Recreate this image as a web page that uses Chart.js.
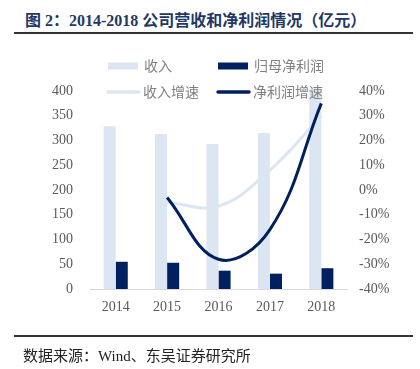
<!DOCTYPE html>
<html>
<head>
<meta charset="utf-8">
<script src="https://cdn.jsdelivr.net/npm/chart.js@4.4.0/dist/chart.umd.min.js"></script>
<style>
    body { margin: 0; background: #fff; }
    #wrap { position: relative; width: 420px; height: 369px; overflow: hidden; }
    #title { position: absolute; left: 25px; top: 7px; font: bold 16px "Liberation Serif", "Noto Sans CJK SC"; color: #1f3864; white-space: nowrap; }
    .rule { position: absolute; left: 14px; width: 399px; height: 2px; background: #333; }
    #source { position: absolute; left: 23px; top: 344px; font: 15px "Liberation Serif", "Noto Sans CJK SC"; color: #222; white-space: nowrap; }
    canvas { position: absolute; left: 0; top: 0; }
</style>
</head>
<body>
<div id="wrap">
    <div id="title">图 2：2014-2018 公司营收和净利润情况（亿元）</div>
    <div class="rule" style="top:32px"></div>
    <canvas id="c" width="420" height="369"></canvas>
    <div class="rule" style="top:335px"></div>
    <div id="source">数据来源：Wind、东吴证券研究所</div>
</div>
<script>
var years = ['2014', '2015', '2016', '2017', '2018'];
var revenue = [329, 313, 293, 315, 405];
var netProfit = [55, 53, 37, 31, 42];
var revenueGrowth = [null, -5, -6.5, 8, 30];
var profitGrowth = [null, -3, -28, -16, 35];
var leftTicks = [0, 400, 50];
var rightTicks = [-40, 40, 10];

var lightBlue = '#dce6f2';
var navy = '#002060';

// legend drawn over the plot, like the original
var legendItems = [
    { text: '收入', x: 108, y: 66, kind: 'box', color: lightBlue },
    { text: '归母净利润', x: 218, y: 66, kind: 'box', color: navy },
    { text: '收入增速', x: 107, y: 92, kind: 'line', color: lightBlue },
    { text: '净利润增速', x: 217, y: 92, kind: 'line', color: navy }
];

var legendPlugin = {
    id: 'overlayLegend',
    afterDraw: function(chart) {
        var ctx = chart.ctx;
        ctx.save();
        legendItems.forEach(function(item) {
            if (item.kind === 'box') {
                ctx.fillStyle = item.color;
                ctx.fillRect(item.x, item.y - 3.5, 30, 7);
            } else {
                ctx.strokeStyle = item.color;
                ctx.lineWidth = 3.5;
                ctx.lineCap = 'round';
                ctx.beginPath();
                ctx.moveTo(item.x + 1, item.y);
                ctx.lineTo(item.x + 32, item.y);
                ctx.stroke();
            }
            ctx.fillStyle = '#808080';
            ctx.font = '14px "Noto Sans CJK SC"';
            ctx.textBaseline = 'middle';
            ctx.fillText(item.text, item.x + 36, item.y);
        });
        ctx.restore();
    }
};

var tickFont = { family: '"Liberation Serif"', size: 14 };

new Chart(document.getElementById('c'), {
    data: {
        labels: years,
        datasets: [
            {
                type: 'line', label: '收入增速', data: revenueGrowth, yAxisID: 'y2',
                borderColor: lightBlue, borderWidth: 3, tension: 0.4, pointRadius: 0, order: 1
            },
            {
                type: 'line', label: '净利润增速', data: profitGrowth, yAxisID: 'y2',
                borderColor: navy, borderWidth: 3, tension: 0.4, pointRadius: 0, order: 0
            },
            {
                type: 'bar', label: '收入', data: revenue, yAxisID: 'y',
                backgroundColor: lightBlue, categoryPercentage: 0.47, barPercentage: 1.0,
                clip: false, order: 2
            },
            {
                type: 'bar', label: '归母净利润', data: netProfit, yAxisID: 'y',
                backgroundColor: navy, categoryPercentage: 0.47, barPercentage: 1.0, order: 3
            }
        ]
    },
    options: {
        responsive: false,
        animation: false,
        layout: { padding: { top: 91, bottom: 50, left: 0, right: 0 } },
        scales: {
            x: {
                grid: { display: false, drawTicks: false },
                border: { display: true, color: '#d9d9d9', width: 1 },
                ticks: { color: '#595959', font: tickFont, padding: 10, maxRotation: 0 },
                afterFit: function(scale) { scale.height = 30; }
            },
            y: {
                position: 'left',
                min: leftTicks[0], max: leftTicks[1],
                grid: { display: false, drawTicks: false },
                border: { display: false },
                ticks: { stepSize: leftTicks[2], color: '#595959', font: tickFont, padding: 17 },
                afterFit: function(scale) { scale.width = 90; }
            },
            y2: {
                position: 'right',
                min: rightTicks[0], max: rightTicks[1],
                grid: { display: false, drawTicks: false },
                border: { display: false },
                ticks: {
                    stepSize: rightTicks[2], color: '#595959', font: tickFont, padding: 12,
                    callback: function(v) { return v + '%'; }
                },
                afterFit: function(scale) { scale.width = 73; }
            }
        },
        plugins: {
            legend: { display: false },
            tooltip: { enabled: false }
        }
    },
    plugins: [legendPlugin]
});
</script>
</body>
</html>
